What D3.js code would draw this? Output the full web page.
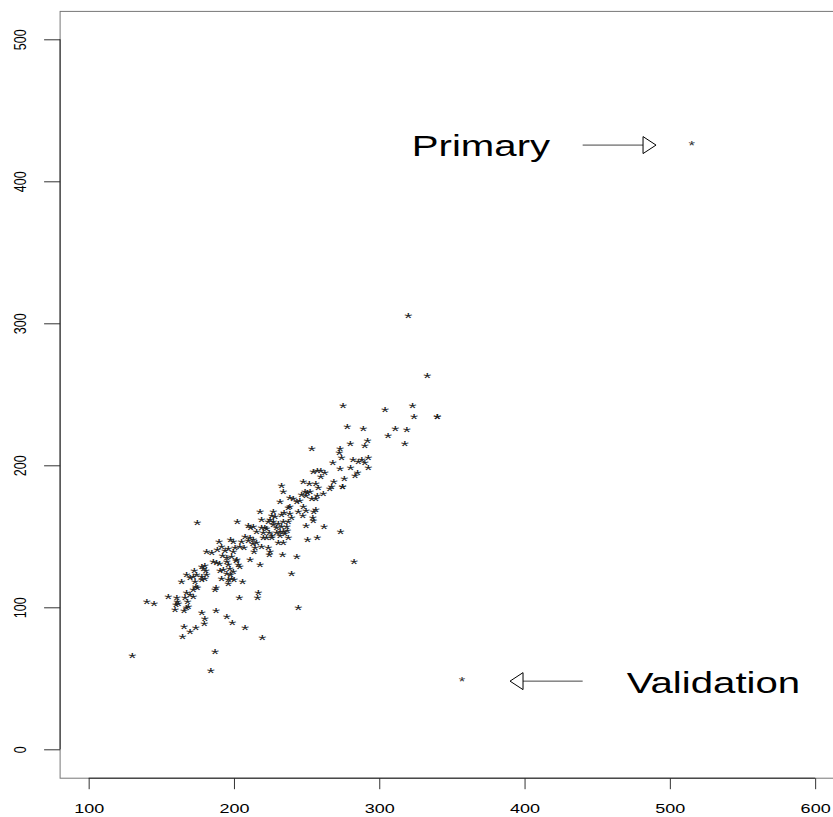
<!DOCTYPE html>
<html>
<head>
<meta charset="utf-8">
<script src="https://cdn.jsdelivr.net/npm/d3@7"></script>
<style>
  body { margin: 0; background: #fff; }
  svg { display: block; font-family: "Liberation Sans", Arial, Helvetica, sans-serif; }
</style>
</head>
<body>
<div id="chart"></div>
<script>
var width = 833;
var height = 817;

// Scatter values (x, y)
var samplePoints = [
  [320,306],[333,264],[275,243],[304,240],[323,243],[324,235],[340,235],[340,235],[278,228],[289,227],[311,227],[319,226],[306,222],[292,218],[317.5,216.4],
  [253.5,213],[280,216],[290,215],[273,213],[272.5,209.6],[274,206.5],[268,203],[282,205],[285.5,203.7],[288,205],[290,203],[292.4,206.5],[273,198.6],[280.3,199],[285,196],[283.3,194],[292.4,199],
  [254.6,196.2],[257.3,197.4],[259.7,197.4],[262.6,196],[259.7,193.2],[247.7,189.6],[251.8,187.7],[256.4,187.7],[268.8,189.2],[276,191.3],[267.2,186],[266,184.5],[274.8,186],[274.8,186],[258,185],
  [232.8,186.8],[234,182.6],[249,182.6],[250.5,181.4],[252.3,182.6],[246.6,180.3],[249.6,179.6],[253.5,177.5],[256.4,177.2],[257.3,179.6],[261.5,180.7],[231.7,175.6],[238.5,178.4],[240.8,177.5],[243.2,175.6],[245.4,176.3],
  [237.4,170.8],[238.5,172],[247.7,172],[249.6,169],[256.4,169.7],[255,168.5],[244.3,168],[247.3,165.5],[218,168],[227,168],[226,165.7],[228.2,165],[232.8,166.2],[234.4,167.3],[238.5,166.6],[239.7,164.3],[254.2,163.8],[254.6,162],
  [219,162.7],[224.8,163],[223.6,161],[227,161],[234,161.5],[237.4,161.5],[230.5,159.6],[232.8,158],[236.3,158],[236.7,155],[234,154],[231.7,154.4],[249.6,158.7],[262,158],
  [202.3,161],[209.8,158.7],[211.5,157.3],[213.3,158],[219,156.8],[221.3,157.3],[222.5,156.3],[227,159.2],[229.4,157.3],[215.6,154],[220.2,153.2],[224.3,153.2],[226,151.6],[229.4,153.2],
  [207.6,151],[211,149.7],[213.3,148.6],[209.8,148],[213,146],[215.6,146.2],[220.2,150.2],[222.5,149.7],[226,149.7],[231.7,151.6],[235,152.5],[237.4,149.7],[234,146.2],[230.5,146.2],[250.7,148.6],[257.3,149.7],[273.4,154],
  [219,144],[223.6,142.7],[224.8,140.4],[224.3,138],[214.5,142.7],[213.8,140.4],[207,142.7],[204,144],[200.7,142.7],[199.5,140.4],[233.5,138],[243.2,136.8],[218,131],[282.6,132.8],[198.4,136.8],[202,134.5],[203,131],
  [174.8,160.8],[189.7,147],[181.2,140],[184.7,139.2],[188.5,141.5],[191.5,144],[193.8,140.8],[196.1,142.3],[197.7,148.6],[199.5,147.4],[205.3,147.4],[192.2,137.3],[195,136.1],[185.8,133.3],[188.1,132.6],[190,132],[195,133.3],[196.1,131],[201.4,133.8],[204,129.8],[211,134.5],
  [177.8,129.8],[180,130.5],[179,128.2],[180.7,126.8],[172.7,126.8],[190.4,126.8],[192.6,127.5],[197.2,128.2],[199.5,126.3],[197.7,124],[195,124.4],
  [167.4,124],[169.7,122],[172,122.7],[174.3,124],[177.8,122.7],[180,121.1],[181.2,124],[177.8,120.4],[191.5,121.1],[196.1,120.4],[198.4,121.1],[200,120.4],
  [164,118.7],[173.2,118.7],[173.8,115.7],[172,113.4],[174.8,114.5],[187.6,115],[187,113.4],[196.1,117.3],[206,118.7],
  [154.8,108.7],[160.6,108],[167.4,111],[169.7,110],[172,108.7],[166.3,108],[161,105.1],[161.7,103.2],[168,105.1],[160.1,102.8],[140,105.1],[145,103.2],
  [159.4,99.3],[165.6,98.6],[167.4,100.4],[168.5,101.6],[177.8,96.9],[180,93],[187.6,98.8],[195,94.6],[203.6,108],[216.7,111],[216.3,108],[239.7,125],[244.3,101],
  [179.6,89.2],[165.6,87.5],[173.8,86.8],[169.7,84],[164.7,80.5],[198.8,89.9],[187,70],[184,56.5],[130,67],[219.5,79.3],[207.6,86.3]
];

// The two highlighted points
var primaryPoint = [515, 427];
var validationPoint = [357, 49.5];

// Labels and arrows (x, y in data units)
var labels = [
  { text: "Primary", x: 370, y: 425 },
  { text: "Validation", x: 530, y: 47 }
];
var arrows = [
  { x1: 440, y1: 425.5, x2: 490.5, y2: 425.5 },
  { x1: 440, y1: 48, x2: 390, y2: 48 }
];

var xTicks = [100, 200, 300, 400, 500, 600];
var yTicks = [0, 100, 200, 300, 400, 500];

// picture is stretched sideways, text too
var stretch = 1.386;

var x = d3.scaleLinear().domain([80, 620]).range([59.6, 844.2]);
var y = d3.scaleLinear().domain([-20, 520]).range([777.7, 10.9]);

var svg = d3.select("#chart")
    .append("svg")
    .attr("width", width)
    .attr("height", height);

// plot box
svg.append("rect")
    .attr("x", x(80) + 0.5)
    .attr("y", y(520) + 0.5)
    .attr("width", x(620) - x(80))
    .attr("height", y(-20) - y(520))
    .attr("fill", "none")
    .attr("stroke", "#777")
    .attr("stroke-width", 1);

// x axis
var xAxis = svg.append("g")
    .attr("transform", "translate(0," + (y(-20) + 0.5) + ")")
    .call(d3.axisBottom(x).tickValues(xTicks).tickSize(11).tickSizeOuter(0).tickFormat(d3.format("d")));
xAxis.select(".domain").remove();
xAxis.selectAll(".tick line").attr("stroke", "#333");
xAxis.selectAll(".tick text")
    .attr("y", 0)
    .attr("dy", 0)
    .attr("fill", "#000")
    .style("font-size", "13px")
    .attr("transform", "translate(0,35) scale(" + stretch + ",1)");
xAxis.append("line")
    .attr("x1", x(xTicks[0])).attr("x2", x(xTicks[xTicks.length - 1]))
    .attr("stroke", "#222");

// y axis
var yAxis = svg.append("g")
    .attr("transform", "translate(" + (x(80) + 0.5) + ",0)")
    .call(d3.axisLeft(y).tickValues(yTicks).tickSize(16).tickSizeOuter(0).tickFormat(d3.format("d")));
yAxis.select(".domain").remove();
yAxis.selectAll(".tick line").attr("stroke", "#333");
yAxis.selectAll(".tick text")
    .attr("x", 0)
    .attr("dy", 0)
    .attr("text-anchor", "middle")
    .attr("fill", "#000")
    .style("font-size", "12.5px")
    .attr("transform", "translate(-34,0) scale(" + stretch + ",1) rotate(-90)");
yAxis.append("line")
    .attr("y1", y(yTicks[0])).attr("y2", y(yTicks[yTicks.length - 1]))
    .attr("stroke", "#222");

// star points, drawn as "*" like pch = "*"
function starAt(sel, p, size, color) {
  sel.append("text")
      .attr("text-anchor", "middle")
      .attr("fill", color)
      .style("font-size", size + "px")
      .attr("transform", "translate(" + x(p[0]) + "," + y(p[1]) + ") scale(" + stretch + ",1)")
      .attr("dy", (size * 0.58) + "px")
      .text("*");
}

var pts = svg.append("g");
samplePoints.forEach(function(p) { starAt(pts, p, 15, "#222"); });
starAt(pts, primaryPoint, 12, "#333");
starAt(pts, validationPoint, 12, "#333");

// arrows with open heads
arrows.forEach(function(a) {
  var x1 = x(a.x1), x2 = x(a.x2), yy = y(a.y1);
  var dir = x2 > x1 ? 1 : -1;
  var len = 13, half = 8.5;
  svg.append("line")
      .attr("x1", x1).attr("y1", yy)
      .attr("x2", x2 - dir * len).attr("y2", yy)
      .attr("stroke", "#444");
  svg.append("path")
      .attr("d", "M" + x2 + "," + yy + "L" + (x2 - dir * len) + "," + (yy - half) +
                 "L" + (x2 - dir * len) + "," + (yy + half) + "Z")
      .attr("fill", "#fff")
      .attr("stroke", "#000");
});

// annotations
labels.forEach(function(l) {
  svg.append("text")
      .attr("text-anchor", "middle")
      .attr("fill", "#000")
      .style("font-size", "29px")
      .attr("transform", "translate(" + x(l.x) + "," + y(l.y) + ") scale(" + stretch + ",1)")
      .attr("dy", "0.36em")
      .text(l.text);
});
</script>
</body>
</html>
